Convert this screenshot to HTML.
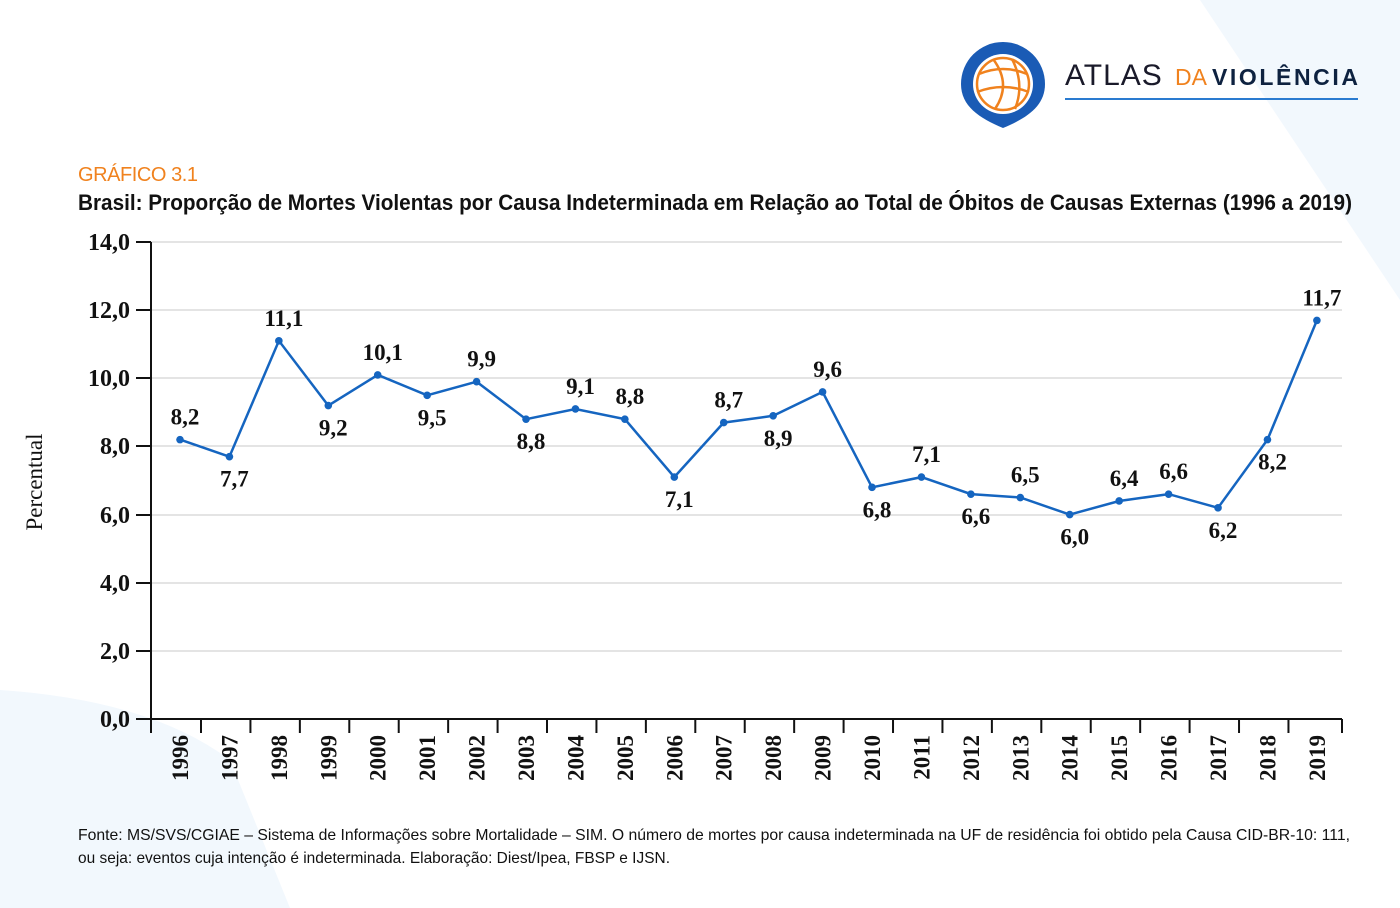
<!DOCTYPE html>
<html><head><meta charset="utf-8"><style>
html,body{margin:0;padding:0;background:#fff;}
body{width:1400px;height:908px;overflow:hidden;position:relative;}
svg{position:absolute;left:0;top:0;}
</style></head><body>
<svg width="1400" height="908" viewBox="0 0 1400 908" xmlns="http://www.w3.org/2000/svg">
<rect width="1400" height="908" fill="#fff"/>
<path d="M1200 0 L1400 0 L1400 300 Q1300 150 1200 0Z" fill="#f2f8fd"/>
<path d="M0 690 Q150 700 230 760 L290 908 L0 908Z" fill="#f2f8fd"/>
<!-- logo -->
<path d="M1003 42 a42 42 0 0 1 42 42 c0 22 -18 34 -42 44 c-24 -10 -42 -22 -42 -44 a42 42 0 0 1 42 -42z" fill="#1a5bb5"/>
<circle cx="1003" cy="84" r="30" fill="#fff"/>
<g fill="none" stroke="#f0821e" stroke-width="2.5">
<circle cx="1003" cy="84" r="26"/>
<path d="M979 74 Q1003 64 1027 74 M977 92 Q1003 82 1029 92 M993 59 Q1012 84 995 109 M1012 59 Q1025 84 1015 109"/>
</g>
<text x="1065" y="85" font-family="Liberation Sans, sans-serif" font-size="30" fill="#1a1a2a" letter-spacing="1">ATLAS</text>
<text x="1175" y="85" font-family="Liberation Sans, sans-serif" font-size="23" fill="#f0821e">DA</text>
<text x="1212" y="85" font-family="Liberation Sans, sans-serif" font-size="23" font-weight="bold" fill="#0e2240" textLength="146">VIOLÊNCIA</text>
<rect x="1065" y="98" width="293" height="2" fill="#2a7bd0"/>
<!-- titles -->
<text x="78" y="181" font-family="Liberation Sans, sans-serif" font-size="20" fill="#f0821e" textLength="120">GRÁFICO 3.1</text>
<text x="78" y="210" font-family="Liberation Sans, sans-serif" font-size="22" font-weight="bold" fill="#111" textLength="1274" lengthAdjust="spacingAndGlyphs">Brasil: Proporção de Mortes Violentas por Causa Indeterminada em Relação ao Total de Óbitos de Causas Externas (1996 a 2019)</text>
<!-- grid -->
<g stroke="#c8c8c8" stroke-width="1">
<line x1="151" x2="1342" y1="242" y2="242"/><line x1="151" x2="1342" y1="310" y2="310"/>
<line x1="151" x2="1342" y1="378" y2="378"/><line x1="151" x2="1342" y1="446" y2="446"/>
<line x1="151" x2="1342" y1="515" y2="515"/><line x1="151" x2="1342" y1="583" y2="583"/>
<line x1="151" x2="1342" y1="651" y2="651"/>
</g>
<g stroke="#111" stroke-width="2">
<line x1="151" y1="242" x2="151" y2="733"/>
<line x1="136" y1="719" x2="1342" y2="719"/>
<line x1="136" y1="242" x2="151" y2="242"/><line x1="136" y1="310" x2="151" y2="310"/>
<line x1="136" y1="378" x2="151" y2="378"/><line x1="136" y1="446" x2="151" y2="446"/>
<line x1="136" y1="515" x2="151" y2="515"/><line x1="136" y1="583" x2="151" y2="583"/>
<line x1="136" y1="651" x2="151" y2="651"/>
</g>
<g id="xt" stroke="#111" stroke-width="2"></g>
<g font-family="Liberation Serif, serif" font-size="24" font-weight="bold" fill="#111" text-anchor="end">
<text x="130" y="250">14,0</text><text x="130" y="318">12,0</text><text x="130" y="386">10,0</text>
<text x="130" y="454">8,0</text><text x="130" y="523">6,0</text><text x="130" y="591">4,0</text>
<text x="130" y="659">2,0</text><text x="130" y="727">0,0</text>
</g>
<text transform="translate(42,482) rotate(-90)" text-anchor="middle" font-family="Liberation Serif, serif" font-size="23" fill="#111">Percentual</text>
<g id="yr" font-family="Liberation Serif, serif" font-size="23" font-weight="bold" fill="#111" text-anchor="end"></g>
<polyline fill="none" stroke="#1565c0" stroke-width="2.5" id="ln"/>
<g id="pts" fill="#1565c0"></g>
<g id="lb" font-family="Liberation Serif, serif" font-size="23" font-weight="bold" fill="#111" text-anchor="middle"></g>
<text x="78" y="840" font-family="Liberation Sans, sans-serif" font-size="16" fill="#111" textLength="1272" lengthAdjust="spacingAndGlyphs">Fonte: MS/SVS/CGIAE – Sistema de Informações sobre Mortalidade – SIM. O número de mortes por causa indeterminada na UF de residência foi obtido pela Causa CID-BR-10: 111,</text>
<text x="78" y="863" font-family="Liberation Sans, sans-serif" font-size="16" fill="#111" textLength="592" lengthAdjust="spacingAndGlyphs">ou seja: eventos cuja intenção é indeterminada. Elaboração: Diest/Ipea, FBSP e IJSN.</text>
</svg>
<script>
var v=[8.2,7.7,11.1,9.2,10.1,9.5,9.9,8.8,9.1,8.8,7.1,8.7,8.9,9.6,6.8,7.1,6.6,6.5,6.0,6.4,6.6,6.2,8.2,11.7];
var below=[1,3,5,7,10,12,14,16,18,21,22];
var ns="http://www.w3.org/2000/svg",pts=[];
function el(n,a,p,t){var e=document.createElementNS(ns,n);for(var k in a)e.setAttribute(k,a[k]);if(t)e.textContent=t;document.getElementById(p).appendChild(e);}
for(var i=0;i<24;i++){var x=180+i*49.43,y=719-v[i]*34.07;pts.push(x.toFixed(1)+","+y.toFixed(1));
el("circle",{cx:x,cy:y,r:3.8},"pts");
var b=below.indexOf(i)>=0;el("text",{x:x+5,y:b?y+30:y-15},"lb",v[i].toFixed(1).replace(".",","));
el("text",{transform:"translate("+(x+8)+",735) rotate(-90)"},"yr",String(1996+i));
if(i<23){var tx=201+i*49.43;el("line",{x1:tx,x2:tx,y1:719,y2:733},"xt");}}
el("line",{x1:1342,x2:1342,y1:719,y2:733},"xt");
document.getElementById("ln").setAttribute("points",pts.join(" "));
</script>
</body></html>
